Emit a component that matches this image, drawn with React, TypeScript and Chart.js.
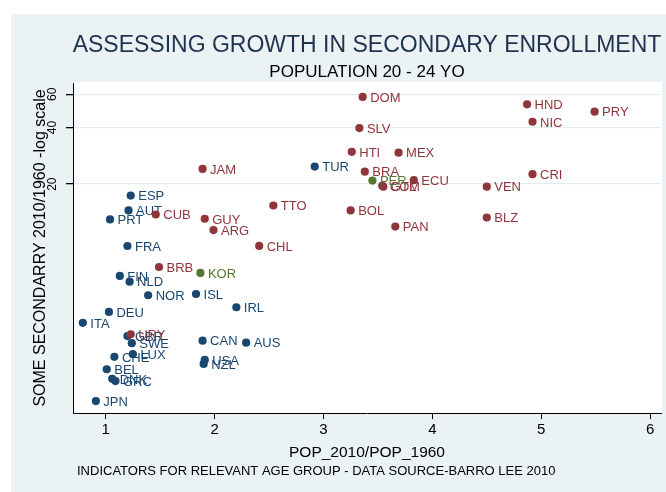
import { useEffect, useRef } from "react";
import { Chart, registerables } from "chart.js";

Chart.register(...registerables);

const FONT = '"Liberation Sans", Arial, Helvetica, sans-serif';

const titleText = "ASSESSING GROWTH IN SECONDARY ENROLLMENT";
const subtitleText = "POPULATION 20 - 24 YO";
const xTitle = "POP_2010/POP_1960";
const yTitle = "SOME SECONDARRY 2010/1960 -log scale";
const footerText = "INDICATORS FOR RELEVANT AGE GROUP - DATA SOURCE-BARRO LEE 2010";

const xTicks = [1, 2, 3, 4, 5, 6];
const yTicks = [20, 40, 60];

// Blue group
const blueCodes = ["TUR", "ESP", "AUT", "PRT", "FRA", "FIN", "NLD", "NOR", "ISL", "IRL", "DEU", "ITA", "GBR", "SWE", "CAN", "AUS", "CHE", "LUX", "USA", "NZL", "BEL", "DNK", "GRC", "JPN"];
const blueX = [2.92, 1.23, 1.21, 1.04, 1.2, 1.13, 1.22, 1.39, 1.83, 2.2, 1.03, 0.79, 1.2, 1.24, 1.89, 2.29, 1.08, 1.25, 1.91, 1.9, 1.01, 1.06, 1.09, 0.91];
const blueY = [24.8, 17.4, 14.5, 13.0, 9.39, 6.51, 6.07, 5.14, 5.22, 4.44, 4.19, 3.67, 3.12, 2.86, 2.95, 2.88, 2.42, 2.5, 2.33, 2.22, 2.08, 1.85, 1.8, 1.41];

// Red group
const redCodes = ["DOM", "SLV", "HTI", "MEX", "BRA", "ECU", "COL", "GTM", "JAM", "TTO", "BOL", "PAN", "CUB", "GUY", "ARG", "CHL", "BRB", "URY", "HND", "PRY", "NIC", "CRI", "VEN", "BLZ"];
const redX = [3.36, 3.33, 3.26, 3.69, 3.38, 3.83, 3.54, 3.55, 1.89, 2.54, 3.25, 3.66, 1.46, 1.91, 1.99, 2.41, 1.49, 1.23, 4.87, 5.49, 4.92, 4.92, 4.5, 4.5];
const redY = [58.1, 39.7, 29.7, 29.4, 23.3, 21.0, 19.6, 19.4, 24.1, 15.4, 14.5, 11.9, 13.8, 13.1, 11.4, 9.4, 7.26, 3.19, 53.1, 48.5, 42.9, 22.6, 19.4, 13.3];

// Green group
const greenCodes = ["PER", "KOR"];
const greenX = [3.45, 1.87];
const greenY = [20.9, 6.75];

const BLUE = "#1a476f";
const RED = "#90353b";
const GREEN = "#55752f";
const BG = "#eaf2f3";

function pts(xs: number[], ys: number[], codes: string[]) {
  return xs.map((x, i) => ({ x, y: ys[i], code: codes[i] }));
}

const backgroundPlugin = {
  id: "bgPlugin",
  beforeDraw(chart: any) {
    const { ctx, chartArea } = chart;
    ctx.save();
    ctx.fillStyle = "#ffffff";
    ctx.fillRect(0, 0, chart.width, chart.height);
    ctx.fillStyle = BG;
    ctx.fillRect(11, 14, chart.width - 11, chart.height - 14);
    ctx.fillStyle = "#ffffff";
    ctx.fillRect(chartArea.left, chartArea.top - 1, chartArea.right - chartArea.left + 1, chartArea.bottom - chartArea.top + 1);
    ctx.restore();
  },
};

const labelPlugin = {
  id: "labelPlugin",
  afterDatasetDraw(chart: any, args: any) {
    const ds = chart.data.datasets[args.index];
    const meta = args.meta;
    const ctx = chart.ctx;
    ctx.save();
    ctx.font = `13px ${FONT}`;
    ctx.fillStyle = ds.backgroundColor;
    ctx.textAlign = "left";
    ctx.textBaseline = "middle";
    meta.data.forEach((el: any, i: number) => {
      ctx.fillText(ds.data[i].code, el.x + 7.5, el.y + 1.2);
    });
    ctx.restore();
  },
};

const textPlugin = {
  id: "textPlugin",
  afterDraw(chart: any) {
    const { ctx, chartArea, scales } = chart;
    const cx = (chartArea.left + chartArea.right) / 2;
    const cy = (chartArea.top + chartArea.bottom) / 2;
    ctx.save();
    // title
    ctx.fillStyle = "#1e3250";
    ctx.font = `23px ${FONT}`;
    ctx.textAlign = "center";
    ctx.textBaseline = "alphabetic";
    ctx.fillText(titleText, cx, 51.7);
    // subtitle
    ctx.fillStyle = "#000";
    ctx.font = `17px ${FONT}`;
    ctx.fillText(subtitleText, cx, 76.5);
    // x axis title
    ctx.font = `15.5px ${FONT}`;
    ctx.fillText(xTitle, cx, 457);
    // footer
    ctx.font = `13px ${FONT}`;
    ctx.textAlign = "left";
    ctx.fillText(footerText, 77, 475);
    // y axis title
    ctx.save();
    ctx.translate(45, cy);
    ctx.rotate(-Math.PI / 2);
    ctx.font = `16px ${FONT}`;
    ctx.textAlign = "center";
    ctx.fillText(yTitle, 0, 0);
    ctx.restore();
    // y tick labels (rotated)
    const ys = scales.y;
    ctx.font = `12px ${FONT}`;
    yTicks.forEach((t) => {
      const py = ys.getPixelForValue(t);
      ctx.save();
      ctx.translate(55.7, py);
      ctx.rotate(-Math.PI / 2);
      ctx.textAlign = "center";
      ctx.fillText(String(t), 0, 0);
      ctx.restore();
    });
    ctx.restore();
  },
};

export default function App() {
  const ref = useRef<HTMLCanvasElement>(null);
  useEffect(() => {
    const chart = new Chart(ref.current!, {
      type: "scatter",
      data: {
        datasets: [
          { label: "blue", data: pts(blueX, blueY, blueCodes), backgroundColor: BLUE, borderWidth: 0, pointRadius: 4.1, order: 3 },
          { label: "red", data: pts(redX, redY, redCodes), backgroundColor: RED, borderWidth: 0, pointRadius: 4.1, order: 2 },
          { label: "green", data: pts(greenX, greenY, greenCodes), backgroundColor: GREEN, borderWidth: 0, pointRadius: 4.1, order: 1 },
        ] as any,
      },
      options: {
        responsive: false,
        animation: false,
        devicePixelRatio: 1,
        layout: { padding: { left: 0, right: 5, top: 83, bottom: 0 } },
        plugins: {
          legend: { display: false },
          tooltip: { enabled: false },
          title: { display: false },
        },
        scales: {
          x: {
            type: "linear",
            min: 0.7,
            max: 6.1,
            afterBuildTicks: (s: any) => {
              s.ticks = xTicks.map((v) => ({ value: v }));
            },
            afterFit: (s: any) => {
              s.height = 79;
            },
            ticks: { color: "#000", font: { size: 15, family: FONT }, padding: 2, maxRotation: 0, autoSkip: false },
            grid: { drawOnChartArea: false, drawTicks: true, tickLength: 6, color: "#000", tickColor: "#000", lineWidth: 1 },
            border: { display: true, color: "#000", width: 1 },
          },
          y: {
            type: "logarithmic",
            min: 1.218,
            max: 68.9,
            afterBuildTicks: (s: any) => {
              s.ticks = yTicks.map((v) => ({ value: v }));
            },
            afterFit: (s: any) => {
              s.width = 73;
            },
            ticks: { display: false },
            grid: { drawOnChartArea: true, drawTicks: true, tickLength: 7, color: "#e3ecee", tickColor: "#000", lineWidth: 1.3 },
            border: { display: true, color: "#000", width: 1 },
          },
        },
      } as any,
      plugins: [backgroundPlugin, labelPlugin, textPlugin],
    });
    return () => chart.destroy();
  }, []);
  return (
    <div style={{ position: "fixed", left: 0, top: 0, width: 666, height: 492, background: "#fff" }}>
      <canvas ref={ref} width={666} height={492} style={{ display: "block", width: 666, height: 492 }} />
    </div>
  );
}
